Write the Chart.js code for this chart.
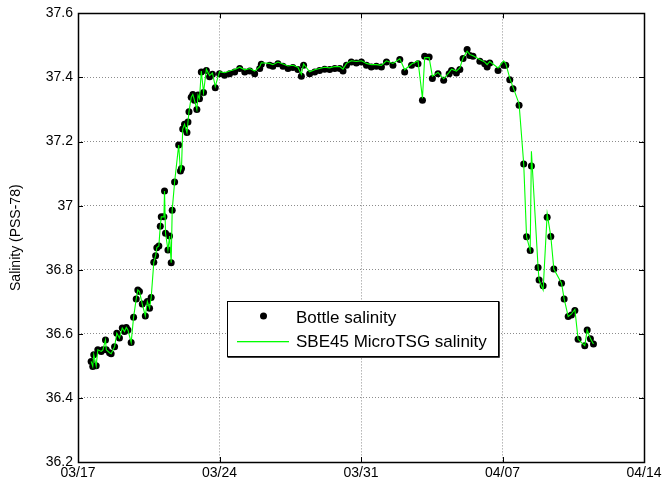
<!DOCTYPE html>
<html>
<head>
<meta charset="utf-8">
<script src="https://cdn.jsdelivr.net/npm/chart.js@4.4.1/dist/chart.umd.min.js"></script>
<style>
html,body{margin:0;padding:0;background:#ffffff;}
#wrap{width:671px;height:487px;position:relative;}
</style>
</head>
<body>
<div id="wrap"><canvas id="c" width="671" height="487"></canvas></div>
<script>
// ---- data (days since 03/17) ----
const days = [
0.65,0.73,0.78,0.90,0.98,1.15,1.23,1.36,1.40,1.56,
1.64,1.81,1.92,2.05,2.19,2.30,2.39,2.47,2.63,2.75,
2.88,2.96,3.04,3.18,3.33,3.43,3.54,3.62,3.75,3.84,
3.90,4.00,4.07,4.12,4.25,4.28,4.33,4.45,4.53,4.61,
4.66,4.78,4.98,5.07,5.12,5.18,5.27,5.39,5.44,5.49,
5.60,5.68,5.76,5.88,5.94,6.01,6.10,6.21,6.35,6.51,
6.65,6.79,7.00,
7.25,7.50,7.75,8.00,8.25,8.50,8.74,8.99,9.07,9.48,
9.64,9.89,10.14,10.39,10.63,10.88,11.05,11.16,11.46,11.71,
11.95,12.20,12.45,12.70,12.95,13.11,13.28,13.52,13.77,14.02,
14.27,14.51,14.76,15.01,15.26,15.58,15.92,16.16,16.50,16.82,
17.04,17.15,17.37,17.53,17.81,18.09,18.36,18.48,18.72,18.89,
19.05,19.25,19.38,19.54,19.88,20.12,20.24,20.37,20.78,21.06,
21.16,21.36,21.52,21.82,
22.05,22.19,22.37,22.43,22.76,22.81,23.01,23.21,23.39,23.54,
23.92,24.05,24.25,24.41,24.58,24.74,25.07,25.19,25.35,25.50
];

const bottleSalinity = [
36.514,36.498,36.535,36.500,36.550,36.545,36.550,36.581,36.550,36.541,
36.538,36.560,36.602,36.587,36.618,36.607,36.620,36.612,36.573,36.652,
36.709,36.737,36.732,36.693,36.656,36.701,36.680,36.713,36.823,36.844,
36.869,36.874,36.936,36.965,36.965,37.046,36.914,36.862,36.905,36.822,
36.986,37.074,37.189,37.108,37.116,37.239,37.254,37.228,37.261,37.293,
37.338,37.347,37.329,37.300,37.345,37.334,37.417,37.353,37.422,37.402,
37.410,37.368,37.412,
37.407,37.412,37.417,37.428,37.417,37.420,37.412,37.428,37.441,37.438,
37.435,37.443,37.435,37.428,37.431,37.425,37.404,37.438,37.412,37.417,
37.422,37.426,37.425,37.428,37.428,37.420,37.438,37.448,37.445,37.448,
37.438,37.433,37.435,37.433,37.448,37.438,37.456,37.417,37.438,37.443,
37.329,37.466,37.464,37.397,37.412,37.391,37.412,37.422,37.414,37.425,
37.459,37.487,37.469,37.466,37.451,37.443,37.433,37.445,37.422,37.438,
37.438,37.393,37.365,37.313,
37.130,36.903,36.860,37.124,36.807,36.768,36.750,36.964,36.904,36.802,
36.758,36.709,36.654,36.659,36.673,36.583,36.563,36.612,36.585,36.568
];

const tsgSalinity = [
36.514,36.498,36.535,36.500,36.550,36.545,36.550,36.581,36.550,36.541,
36.538,36.560,36.602,36.587,36.618,36.607,36.620,36.612,36.573,36.652,
36.709,36.737,36.732,36.693,36.656,36.701,36.680,36.713,36.823,36.844,
36.869,36.874,36.936,36.965,36.965,37.046,36.914,36.862,36.905,36.822,
36.986,37.074,37.189,37.108,37.116,37.239,37.254,37.228,37.261,37.293,
37.338,37.347,37.329,37.300,37.345,37.334,37.420,37.353,37.426,37.406,
37.414,37.372,37.418,
37.415,37.420,37.425,37.432,37.424,37.428,37.420,37.434,37.446,37.444,
37.440,37.448,37.442,37.436,37.438,37.432,37.410,37.442,37.418,37.424,
37.428,37.432,37.430,37.434,37.434,37.426,37.444,37.452,37.450,37.452,
37.444,37.440,37.440,37.438,37.452,37.444,37.458,37.424,37.442,37.452,
37.335,37.462,37.462,37.404,37.416,37.396,37.416,37.426,37.420,37.430,
37.462,37.482,37.472,37.468,37.456,37.448,37.440,37.450,37.430,37.452,
37.444,37.398,37.370,37.318,
37.130,36.903,36.860,37.170,36.807,36.768,36.737,36.975,36.904,36.802,
36.758,36.709,36.654,36.662,36.676,36.583,36.563,36.612,36.585,36.568
];

const xTickDays = [0, 7, 14, 21, 28];
const xTickLabels = ['03/17', '03/24', '03/31', '04/07', '04/14'];
const yTickValues = [36.2, 36.4, 36.6, 36.8, 37.0, 37.2, 37.4, 37.6];
const seriesLabels = ['Bottle salinity', 'SBE45 MicroTSG salinity'];
const yAxisTitle = 'Salinity (PSS-78)';

// ---- build datasets ----
const bottlePts = days.map((d, i) => ({x: d, y: bottleSalinity[i]}));
const tsgPts = days.map((d, i) => ({x: d, y: tsgSalinity[i]}));

const FONT = "'Liberation Sans', Arial, Helvetica, sans-serif";
const TSG_COLOR = '#00ff00';

const boxPlugin = {
  id: 'boxPlugin',
  afterDraw(chart) {
    const {ctx, chartArea: a, scales} = chart;
    ctx.save();
    ctx.setLineDash([]);
    // inward tick marks
    ctx.strokeStyle = '#000';
    ctx.lineWidth = 1;
    const tl = 5;
    xTickDays.forEach(v => {
      const px = Math.round(scales.x.getPixelForValue(v)) + 0.5;
      ctx.beginPath();
      ctx.moveTo(px, a.bottom); ctx.lineTo(px, a.bottom - tl);
      ctx.moveTo(px, a.top); ctx.lineTo(px, a.top + tl);
      ctx.stroke();
    });
    yTickValues.forEach(v => {
      const py = Math.round(scales.y.getPixelForValue(v)) + 0.5;
      ctx.beginPath();
      ctx.moveTo(a.left, py); ctx.lineTo(a.left + tl, py);
      ctx.moveTo(a.right, py); ctx.lineTo(a.right - tl, py);
      ctx.stroke();
    });
    // axes box
    ctx.lineWidth = 1.5;
    ctx.strokeRect(Math.round(a.left) + 0.5, Math.round(a.top) + 0.5,
                   Math.round(a.right - a.left), Math.round(a.bottom - a.top));

    // legend
    const lx = 227.5, ly = 301.5, lw = 271, lh = 55;
    ctx.fillStyle = '#fff';
    ctx.fillRect(lx, ly, lw, lh);
    ctx.lineWidth = 1;
    ctx.strokeStyle = '#000';
    ctx.strokeRect(lx, ly, lw, lh);
    ctx.lineWidth = 1.5;
    ctx.beginPath();
    ctx.moveTo(lx + lw + 0.5, ly); ctx.lineTo(lx + lw + 0.5, ly + lh + 0.5); ctx.lineTo(lx, ly + lh + 0.5);
    ctx.stroke();
    // dot entry
    ctx.fillStyle = '#000';
    ctx.beginPath();
    ctx.arc(263.5, 316, 3.5, 0, Math.PI * 2);
    ctx.fill();
    // line entry (crisp 1px green)
    ctx.fillStyle = TSG_COLOR;
    ctx.fillRect(237, 341, 52, 1.3);
    ctx.fillStyle = '#000';
    ctx.font = '17px ' + FONT;
    ctx.textBaseline = 'middle';
    ctx.textAlign = 'left';
    ctx.fillText(seriesLabels[0], 296, 318);
    ctx.fillText(seriesLabels[1], 296, 342);
    ctx.restore();
  }
};

new Chart(document.getElementById('c'), {
  data: {
    datasets: [
      {
        type: 'line',
        label: seriesLabels[1],
        data: tsgPts,
        borderColor: TSG_COLOR,
        backgroundColor: TSG_COLOR,
        borderWidth: 1.1,
        pointRadius: 0,
        tension: 0,
        fill: false,
        order: 0
      },
      {
        type: 'scatter',
        label: seriesLabels[0],
        data: bottlePts,
        backgroundColor: '#000',
        borderColor: '#000',
        pointRadius: 3.5,
        pointBorderWidth: 0,
        order: 1
      }
    ]
  },
  options: {
    responsive: false,
    animation: false,
    devicePixelRatio: 1,
    layout: {padding: {left: 0, top: 13, right: 27, bottom: 0}},
    plugins: {legend: {display: false}, tooltip: {enabled: false}},
    scales: {
      x: {
        type: 'linear',
        min: 0, max: 28,
        afterFit: s => { s.height = 25; },
        afterBuildTicks: s => { s.ticks = xTickDays.map(v => ({value: v})); },
        ticks: {
          callback: v => { const i = xTickDays.indexOf(v); return i >= 0 ? xTickLabels[i] : ''; },
          color: '#000',
          font: {family: FONT, size: 14},
          padding: 3,
          maxRotation: 0,
          autoSkip: false
        },
        grid: {color: 'rgba(0,0,0,0.45)', drawTicks: false, lineWidth: 1},
        border: {display: false, dash: [1, 2]}
      },
      y: {
        type: 'linear',
        min: 36.2, max: 37.6,
        afterFit: s => { s.width = 78; },
        afterBuildTicks: s => { s.ticks = yTickValues.map(v => ({value: v})); },
        ticks: {
          callback: v => String(Number(v.toFixed(1))),
          color: '#000',
          font: {family: FONT, size: 14},
          padding: 5
        },
        title: {
          display: true,
          text: yAxisTitle,
          color: '#000',
          font: {family: FONT, size: 14},
          padding: {top: 8, bottom: 0}
        },
        grid: {color: 'rgba(0,0,0,0.45)', drawTicks: false, lineWidth: 1},
        border: {display: false, dash: [1, 2]}
      }
    }
  },
  plugins: [boxPlugin]
});
</script>
</body>
</html>
